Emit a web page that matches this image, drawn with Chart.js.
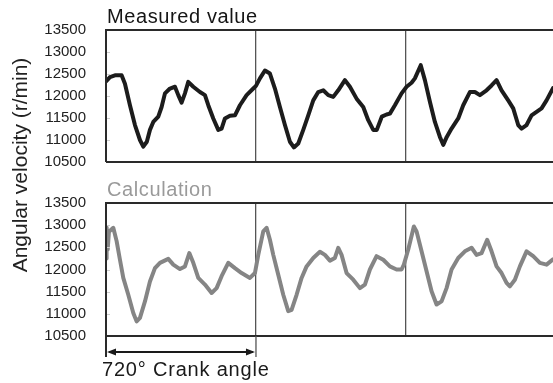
<!DOCTYPE html>
<html>
<head>
<meta charset="utf-8">
<script src="https://cdn.jsdelivr.net/npm/chart.js@4.4.1/dist/chart.umd.min.js"></script>
<style>
  html, body { margin: 0; padding: 0; background: #fff; }
  #wrap { position: relative; width: 553px; height: 383px; overflow: hidden; }
  #wrap canvas { position: absolute; left: 0; top: 0; }
</style>
</head>
<body>
<div id="wrap">
  <canvas id="measured" width="553" height="383"></canvas>
  <canvas id="calc" width="553" height="383"></canvas>
</div>
<script>
// Crank angle (deg) and angular velocity (r/min) for the measured trace
const measuredAngle = [0, 19, 43, 75, 91, 115, 139, 163, 179, 196, 211, 227, 251, 267, 283, 307, 331, 347, 363, 379,
  395, 419, 451, 475, 491, 515, 539, 555, 571, 595, 619, 643, 675, 707, 720, 739, 763, 787, 811, 835,
  859, 883, 902, 923, 947, 971, 995, 1019, 1043, 1067, 1091, 1115, 1147, 1171, 1203, 1235, 1259, 1283, 1300, 1324,
  1347, 1363, 1387, 1419, 1443, 1467, 1483, 1511, 1531, 1555, 1579, 1603, 1619, 1636, 1659, 1691, 1715, 1747, 1771, 1795,
  1827, 1851, 1875, 1899, 1931, 1955, 1979, 1995, 2019, 2043, 2067, 2091, 2115, 2146];
const measuredRpm = [12330, 12430, 12470, 12470, 12280, 11790, 11340, 11000, 10850, 10960, 11230, 11410, 11530, 11750, 12060, 12170, 12210, 12020, 11850, 12060,
  12320, 12210, 12090, 12020, 11790, 11490, 11230, 11260, 11490, 11550, 11560, 11790, 12020, 12170, 12230, 12400, 12580, 12510, 12170, 11750,
  11340, 10960, 10830, 10920, 11230, 11560, 11900, 12090, 12130, 12020, 11980, 12130, 12360, 12210, 11940, 11750, 11450, 11230, 11230, 11530,
  11580, 11600, 11790, 12060, 12210, 12300, 12400, 12700, 12360, 11870, 11410, 11070, 10890, 11070, 11260, 11490, 11790, 12090, 12090, 12020,
  12130, 12240, 12360, 12130, 11900, 11720, 11340, 11260, 11340, 11560, 11640, 11720, 11900, 12180];

// Crank angle (deg) and angular velocity (r/min) for the calculated trace
const calcAngle = [0, 3, 8, 14, 35, 51, 67, 83, 107, 131, 147, 163, 187, 211, 235, 259, 299, 323, 355, 379,
  400, 419, 443, 475, 507, 531, 555, 587, 619, 651, 691, 715, 731, 755, 771, 787, 803, 827, 851, 875,
  891, 915, 939, 963, 995, 1027, 1051, 1075, 1099, 1115, 1131, 1155, 1187, 1219, 1243, 1267, 1299, 1331, 1363, 1395,
  1419, 1430, 1451, 1478, 1491, 1515, 1539, 1563, 1587, 1611, 1635, 1659, 1691, 1723, 1755, 1779, 1803, 1830, 1851, 1875,
  1899, 1923, 1939, 1963, 1987, 2019, 2051, 2083, 2115, 2146];
const calcRpm = [12250, 12950, 12450, 12850, 12940, 12640, 12220, 11810, 11430, 11020, 10830, 10910, 11280, 11730, 12030, 12150, 12240, 12110, 12010, 12070,
  12370, 12150, 11810, 11660, 11470, 11580, 11850, 12150, 12030, 11920, 11810, 11920, 12330, 12860, 12940, 12670, 12330, 11880, 11430, 11060,
  11090, 11430, 11810, 12070, 12260, 12400, 12330, 12200, 12260, 12490, 12330, 11920, 11770, 11580, 11660, 12000, 12300, 12220, 12070, 12000,
  12000, 12110, 12450, 12970, 12860, 12410, 11960, 11510, 11210, 11280, 11580, 12000, 12260, 12410, 12490, 12330, 12370, 12670, 12410, 12070,
  11920, 11700, 11620, 11770, 12070, 12410, 12300, 12150, 12110, 12230];

// Axis settings
const yTicks = [10500, 11000, 11500, 12000, 12500, 13000, 13500];
const cycleMarks = [720, 1440];   // one engine cycle = 720 deg
const angleMax = 2146;

const FONT = '"Liberation Sans", Arial, Helvetica, sans-serif';

function pairs(xs, ys) { return xs.map((x, i) => ({ x, y: ys[i] })); }

function drawText(ctx, text, x, y, size, color, spacing, opts = {}) {
  ctx.save();
  ctx.font = size + 'px ' + FONT;
  ctx.fillStyle = color;
  ctx.textBaseline = opts.baseline || 'alphabetic';
  ctx.textAlign = opts.align || 'left';
  if ('letterSpacing' in ctx) ctx.letterSpacing = spacing + 'px';
  if (opts.rotate) {
    ctx.translate(x, y);
    ctx.rotate(opts.rotate);
    ctx.fillText(text, 0, 0);
  } else {
    ctx.fillText(text, x, y);
  }
  ctx.restore();
}

// Panel frame (top, bottom and left edges) plus short inside ticks on the left edge
const framePlugin = {
  id: 'frame',
  afterDraw(chart, args, opts) {
    const { ctx, chartArea: a, scales } = chart;
    ctx.save();
    ctx.strokeStyle = '#cfcfcf';
    ctx.lineWidth = 1;
    yTicks.slice(1, -1).forEach(v => {
      const y = Math.round(scales.y.getPixelForValue(v)) + 0.5;
      ctx.beginPath(); ctx.moveTo(a.left, y); ctx.lineTo(a.left + 4, y); ctx.stroke();
    });
    ctx.strokeStyle = '#2a2a2a';
    ctx.lineWidth = 2;
    ctx.beginPath();
    ctx.moveTo(a.right + 2, a.top); ctx.lineTo(a.left, a.top);
    ctx.lineTo(a.left, opts.leftEnd || a.bottom);
    ctx.moveTo(a.left, a.bottom); ctx.lineTo(a.right + 2, a.bottom);
    ctx.stroke();
    ctx.restore();

    if (opts.title) {
      drawText(ctx, opts.title, a.left + 1, opts.titleY, 20, opts.titleColor, 0.6);
    }
    if (opts.axisTitle) {
      drawText(ctx, opts.axisTitle, 27, 165, 21, '#222', 0,
        { align: 'center', baseline: 'alphabetic', rotate: -Math.PI / 2 });
    }
  }
};

// Dimension arrow spanning one cycle below the lower panel
const spanPlugin = {
  id: 'span',
  afterDraw(chart) {
    const { ctx, chartArea: a, scales } = chart;
    const x0 = scales.x.getPixelForValue(0);
    const x1 = scales.x.getPixelForValue(cycleMarks[0]);
    const yA = a.bottom + 16, yEnd = a.bottom + 21;
    ctx.save();
    ctx.strokeStyle = '#555';
    ctx.lineWidth = 1.3;
    ctx.beginPath(); ctx.moveTo(x1, a.bottom); ctx.lineTo(x1, yEnd); ctx.stroke();
    ctx.strokeStyle = '#1a1a1a';
    ctx.fillStyle = '#1a1a1a';
    ctx.lineWidth = 2;
    ctx.beginPath(); ctx.moveTo(x0 + 3, yA); ctx.lineTo(x1 - 3, yA); ctx.stroke();
    ctx.beginPath();
    ctx.moveTo(x0 + 1, yA); ctx.lineTo(x0 + 10, yA - 3.5); ctx.lineTo(x0 + 10, yA + 3.5); ctx.closePath();
    ctx.moveTo(x1 - 1, yA); ctx.lineTo(x1 - 10, yA - 3.5); ctx.lineTo(x1 - 10, yA + 3.5); ctx.closePath();
    ctx.fill();
    ctx.restore();
    drawText(ctx, '720° Crank angle', x0 - 4, a.bottom + 40, 20, '#1a1a1a', 0.8);
  }
};

function panelOptions(top, bottom, pluginOpts) {
  return {
    responsive: false,
    devicePixelRatio: 1,
    animation: false,
    events: [],
    layout: { padding: { top: top, bottom: 383 - bottom, left: 0, right: 0 } },
    plugins: { legend: { display: false }, tooltip: { enabled: false }, title: { display: false },
      frame: pluginOpts },
    scales: {
      x: {
        type: 'linear', min: 0, max: angleMax,
        afterBuildTicks: s => { s.ticks = cycleMarks.map(v => ({ value: v })); },
        afterFit: s => { s.height = 0; },
        ticks: { display: false },
        grid: { color: '#555', lineWidth: 1.3, drawTicks: false },
        border: { display: false }
      },
      y: {
        min: 10500, max: 13500,
        afterBuildTicks: s => { s.ticks = yTicks.map(v => ({ value: v })); },
        afterFit: s => { s.width = 106; },
        ticks: { color: '#222', padding: 20, font: { family: FONT, size: 15 },
          callback: v => String(v) },
        grid: { display: false, drawTicks: false },
        border: { display: false }
      }
    }
  };
}

new Chart(document.getElementById('measured'), {
  type: 'line',
  data: { datasets: [{ data: pairs(measuredAngle, measuredRpm), borderColor: '#1c1c1c', borderWidth: 4,
    pointRadius: 0, tension: 0, borderJoinStyle: 'round', borderCapStyle: 'round' }] },
  options: panelOptions(30, 162, { title: 'Measured value', titleY: 23, titleColor: '#151515',
    axisTitle: 'Angular velocity (r/min)' }),
  plugins: [framePlugin]
});

new Chart(document.getElementById('calc'), {
  type: 'line',
  data: { datasets: [{ data: pairs(calcAngle, calcRpm), borderColor: '#858585', borderWidth: 4,
    pointRadius: 0, tension: 0, borderJoinStyle: 'round', borderCapStyle: 'round' }] },
  options: panelOptions(203, 336, { title: 'Calculation', titleY: 196, titleColor: '#9a9a9a', leftEnd: 357 }),
  plugins: [framePlugin, spanPlugin]
});
</script>
</body>
</html>
